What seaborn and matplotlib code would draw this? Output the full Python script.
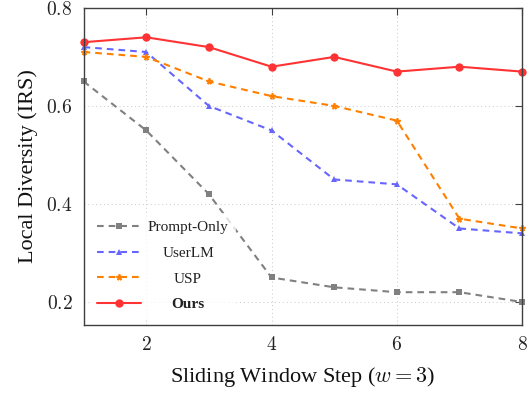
import seaborn as sns
import pandas as pd
import matplotlib.pyplot as plt
from matplotlib.ticker import FuncFormatter

steps = [1, 2, 3, 4, 5, 6, 7, 8]
prompt_only = [0.65, 0.55, 0.42, 0.25, 0.23, 0.22, 0.22, 0.20]
userlm = [0.72, 0.71, 0.60, 0.55, 0.45, 0.44, 0.35, 0.34]
usp = [0.71, 0.70, 0.65, 0.62, 0.60, 0.57, 0.37, 0.35]
ours = [0.73, 0.74, 0.72, 0.68, 0.70, 0.67, 0.68, 0.67]

x_ticks = [2, 4, 6, 8]
y_ticks = [0.2, 0.4, 0.6, 0.8]

sns.set_theme(style='white')
plt.rcParams['font.family'] = ['Liberation Serif', 'DejaVu Serif']
plt.rcParams['mathtext.fontset'] = 'cm'

fig = plt.figure(figsize=(5.29, 3.94), dpi=100)
ax = fig.add_axes([0.158, 0.175, 0.829, 0.805])

dash = (0, (3.2, 2.4))
sns.lineplot(x=steps, y=prompt_only, ax=ax, color='#808080', linestyle=dash, lw=1.5,
             marker='s', markersize=4.5, markeredgewidth=0, label='Prompt-Only', clip_on=False)
sns.lineplot(x=steps, y=userlm, ax=ax, color='#6666ff', linestyle=dash, lw=1.5,
             marker='^', markersize=5, markeredgewidth=0, label='UserLM', clip_on=False)
sns.lineplot(x=steps, y=usp, ax=ax, color='#ff8000', linestyle=dash, lw=1.5,
             marker=(5, 2, 0), markersize=4.5, markeredgewidth=1.3, markeredgecolor='#ff8000',
             label='USP', clip_on=False)
sns.lineplot(x=steps, y=ours, ax=ax, color='#ff3333', linestyle='-', lw=1.5,
             marker='o', markersize=6, markeredgewidth=0, label='Ours', clip_on=False)

ax.set_xlim(1, 8)
ax.set_ylim(0.153, 0.8)
ax.set_xticks(x_ticks)
ax.set_yticks(y_ticks)
fmt = FuncFormatter(lambda v, p: '$%g$' % round(v, 2))
ax.xaxis.set_major_formatter(fmt)
ax.yaxis.set_major_formatter(fmt)
ax.tick_params(direction='in', length=5, width=0.8, color='#404040', labelsize=14,
               top=True, right=True, pad=8, labelcolor='#222222')
ax.grid(True, linestyle=(0, (1, 3)), color='#c8c8c8', lw=0.7)
for s in ax.spines.values():
    s.set_color('#404040')
    s.set_linewidth(1.0)

ax.set_xlabel('Sliding Window Step ($w = 3$)', fontsize=16, labelpad=8, color='#111111')
ax.set_ylabel('Local Diversity (IRS)', fontsize=16, labelpad=6, color='#111111')

leg = ax.legend(loc='lower left', bbox_to_anchor=(0.0, 0.0), fontsize=11,
                handlelength=2.85, handletextpad=0.45, labelspacing=0.78,
                borderpad=0.5, borderaxespad=0.4, frameon=True, fancybox=False,
                framealpha=0.75, edgecolor='none')
for t in leg.get_texts():
    t.set_color('#222222')
    if t.get_text() == 'Ours':
        t.set_fontweight('bold')

# center legend labels like pgfplots does
fig.canvas.draw()
r = fig.canvas.get_renderer()
texts = leg.get_texts()
ws = [t.get_window_extent(r).width for t in texts]
wmax = max(ws)
for t, w in zip(texts, ws):
    t.set_x((wmax - w) / 2)

fig.savefig('out.png', dpi=100)
